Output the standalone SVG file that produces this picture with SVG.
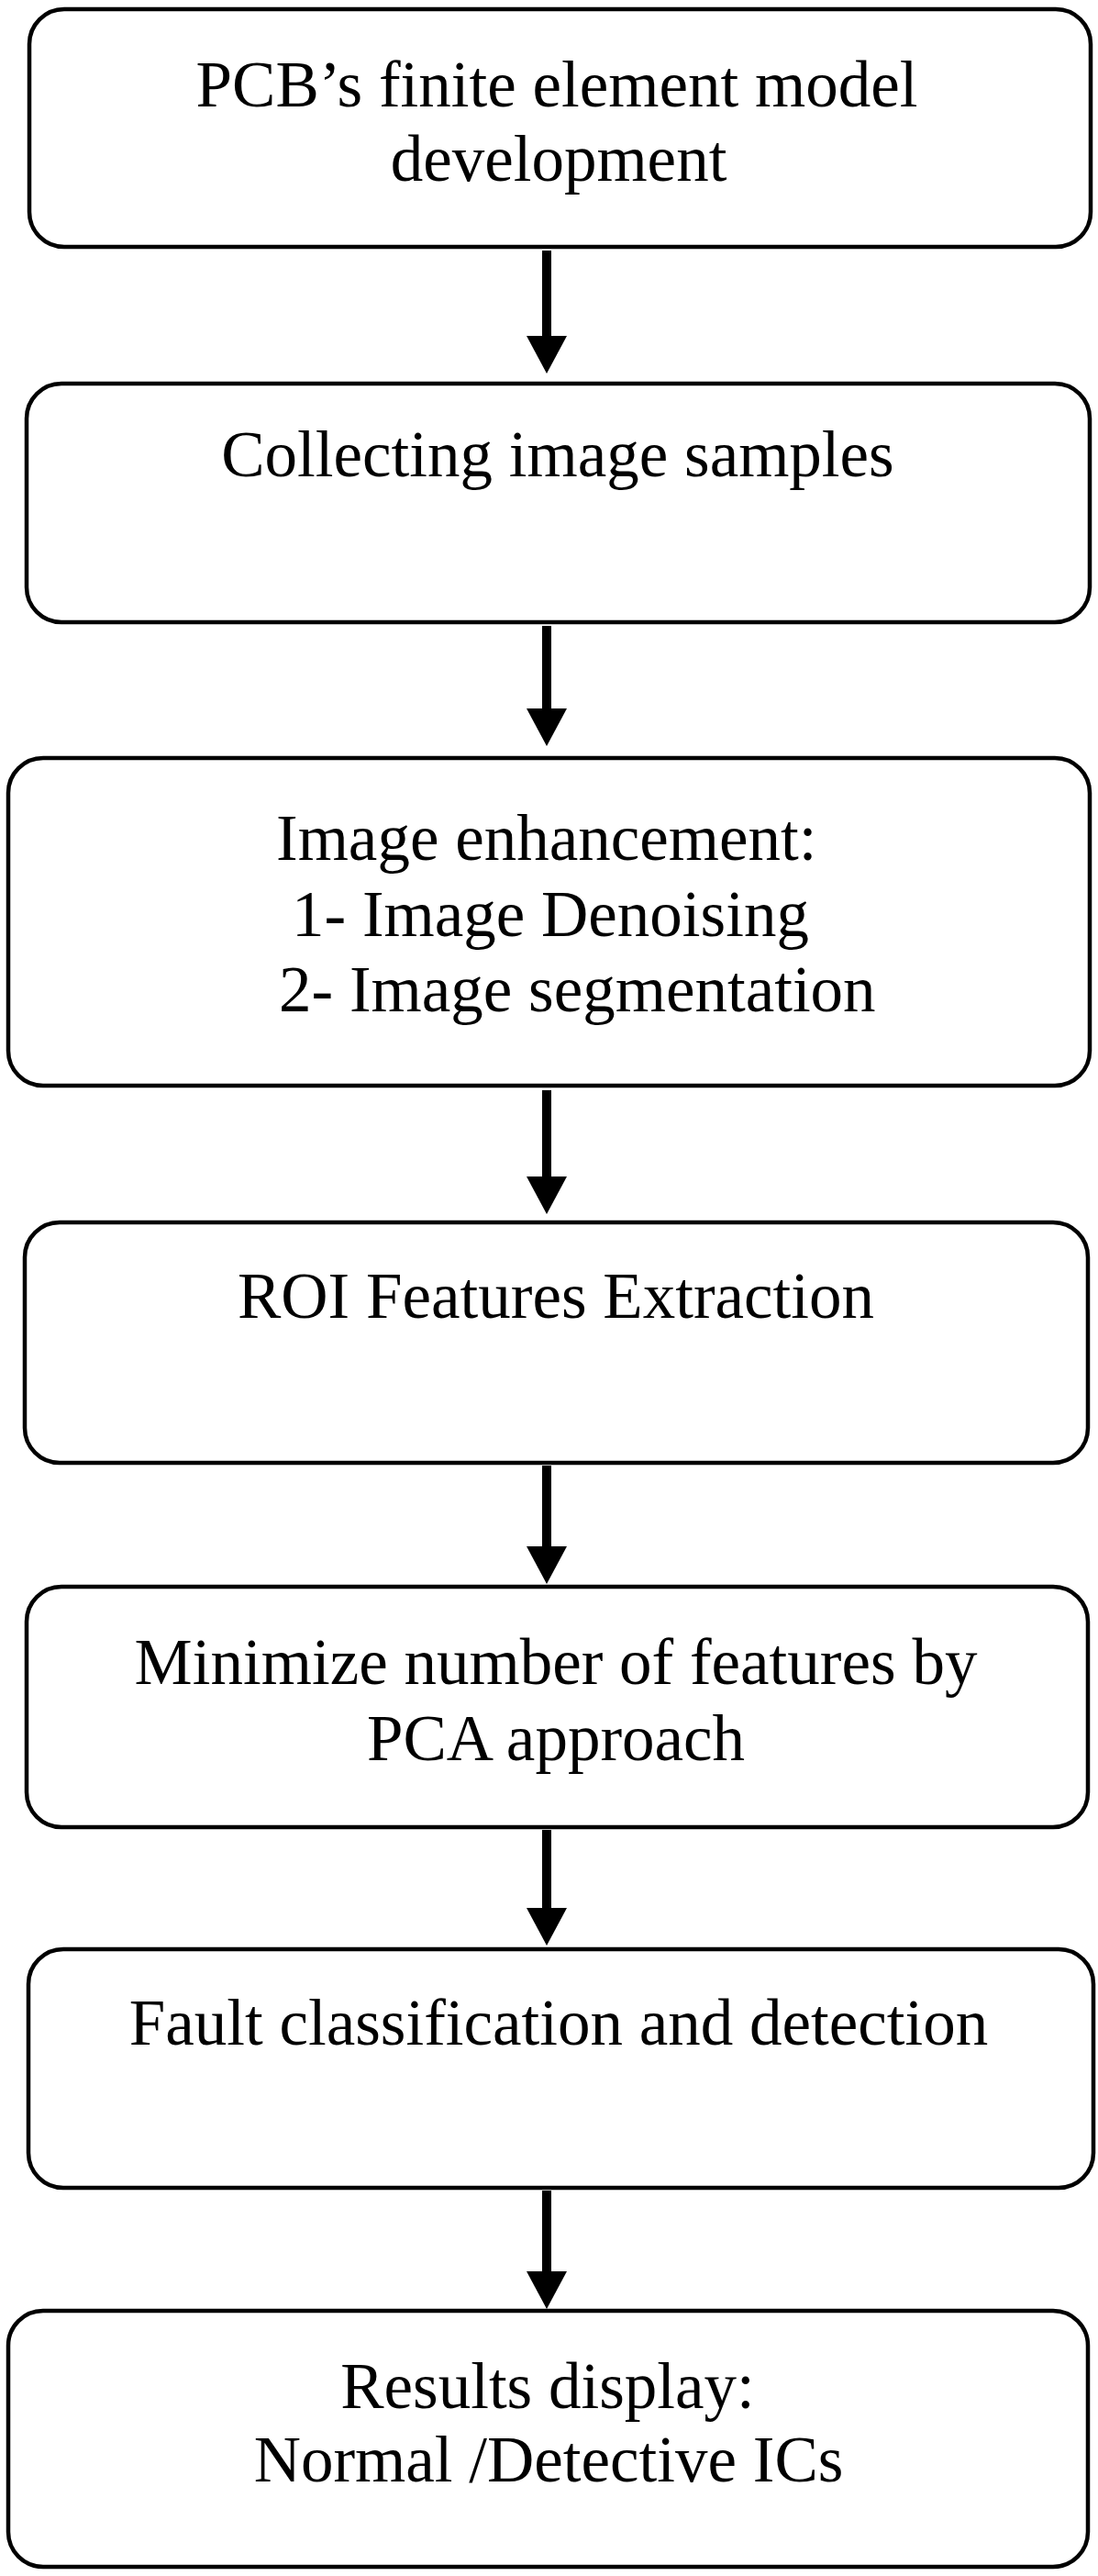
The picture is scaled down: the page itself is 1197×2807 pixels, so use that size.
<svg xmlns="http://www.w3.org/2000/svg" width="1197" height="2807" viewBox="0 0 1197 2807">
<defs>
<style>
.box{fill:#fff;stroke:#000;stroke-width:4.5}
.t{font-family:"Liberation Serif","Times New Roman",serif;font-size:71px;fill:#000}
.c{text-anchor:middle}
.arr{stroke:#000;stroke-width:10;fill:none;marker-end:url(#ah)}
</style>
<marker id="ah" markerUnits="userSpaceOnUse" markerWidth="42" markerHeight="44" refX="3" refY="22" orient="auto" viewBox="0 0 42 44">
<path d="M0,0 L41,22 L0,44 Z" fill="#000"/>
</marker>
</defs>
<rect width="1197" height="2807" fill="#fff"/>
<g id="connectors">
<line class="arr" x1="596" y1="273" x2="596" y2="369"/>
<line class="arr" x1="596" y1="682" x2="596" y2="775"/>
<line class="arr" x1="596" y1="1188" x2="596" y2="1285"/>
<line class="arr" x1="596" y1="1597" x2="596" y2="1688"/>
<line class="arr" x1="596" y1="1994" x2="596" y2="2082"/>
<line class="arr" x1="596" y1="2387" x2="596" y2="2478"/>
</g>
<g id="node1">
<rect class="box" x="32" y="10" width="1157" height="259" rx="38" ry="38"/>
<text class="t c" x="607" y="116">PCB’s finite element model</text>
<text class="t c" x="609" y="197">development</text>
</g>
<g id="node2">
<rect class="box" x="29" y="418" width="1159" height="260" rx="38" ry="38"/>
<text class="t c" x="608" y="519">Collecting image samples</text>
</g>
<g id="node3">
<rect class="box" x="9" y="826" width="1179" height="357" rx="38" ry="38"/>
<text class="t" x="301" y="937">Image enhancement:</text>
<text class="t" x="318" y="1020">1- Image Denoising</text>
<text class="t" x="304" y="1102">2- Image segmentation</text>
</g>
<g id="node4">
<rect class="box" x="27" y="1332" width="1159" height="262" rx="38" ry="38"/>
<text class="t c" x="606" y="1436">ROI Features Extraction</text>
</g>
<g id="node5">
<rect class="box" x="29" y="1729" width="1157" height="262" rx="38" ry="38"/>
<text class="t c" x="606" y="1835">Minimize number of features by</text>
<text class="t c" x="606" y="1918">PCA approach</text>
</g>
<g id="node6">
<rect class="box" x="31" y="2124" width="1161" height="260" rx="38" ry="38"/>
<text class="t c" x="609" y="2228">Fault classification and detection</text>
</g>
<g id="node7">
<rect class="box" x="9" y="2518" width="1177" height="279" rx="38" ry="38"/>
<text class="t c" x="597" y="2624">Results display:</text>
<text class="t c" x="598" y="2704">Normal /Detective ICs</text>
</g>
</svg>
